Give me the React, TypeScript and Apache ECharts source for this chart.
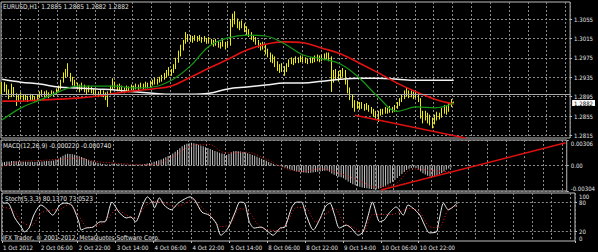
import React, { useEffect, useRef } from "react";
import * as echarts from "echarts";

const FONT =
  "'Noto Sans ExtraCondensed', 'Noto Sans Condensed', 'Liberation Sans Narrow', 'DejaVu Sans Condensed', 'Liberation Sans', Arial, sans-serif";
const FS = 6;
const FS_TEXT = 6.5;
const TEXT = "#e4e4e4";
const GRIDLINE = "#8a8a8a";
const BORDER = "#bdbdbd";

// ---------- price data (H1 bars, pips above 1.2800) ----------
const SYMBOL = "EURUSD,H1";
const BASE_PRICE = 1.28;
const PIP = 0.0001;
const FIRST_OPEN_PIPS = 104;
const closePips = [
  110, 118, 105, 96, 112, 100, 88, 95,
  98, 92, 94, 90, 96, 92, 90, 95,
  100, 104, 98, 102, 99, 103, 101, 106,
  112, 125, 138, 145, 140, 132, 126, 120,
  116, 112, 118, 110, 106, 112, 108, 104,
  102, 98, 104, 100, 96, 100, 112, 122,
  118, 112, 116, 110, 108, 112, 110, 114,
  112, 116, 114, 118, 116, 120, 118, 122,
  124, 128, 126, 130, 134, 138, 142, 148,
  145, 155, 168, 182, 195, 206, 220, 214,
  216, 212, 218, 214, 216, 212, 214, 210,
  212, 208, 205, 208, 204, 200, 206, 202,
  204, 245, 258, 250, 246, 240, 244, 236,
  230, 226, 220, 214, 210, 204, 196, 200,
  190, 184, 172, 176, 164, 158, 150, 156,
  148, 158, 166, 170, 168, 172, 170, 174,
  172, 170, 168, 172, 170, 174, 176, 172,
  176, 178, 180, 176, 135, 140, 146, 138,
  145, 148, 128, 112, 96, 84, 76, 80,
  74, 78, 72, 76, 70, 66, 62, 58,
  60, 66, 64, 68, 66, 70, 68, 72,
  78, 86, 94, 100, 104, 98, 102, 96,
  100, 90, 62, 54, 60, 52, 48, 44,
  50, 58, 54, 64, 70, 66, 76, 85,
  82,
];
const highPips = [
  125, 125, 120, 110, 122, 115, 102, 100,
  104, 100, 99, 97, 101, 99, 96, 100,
  106, 109, 106, 108, 104, 108, 106, 112,
  118, 130, 145, 152, 164, 144, 136, 130,
  124, 120, 124, 120, 114, 118, 116, 112,
  110, 106, 110, 108, 104, 106, 118, 133,
  126, 120, 122, 118, 114, 118, 116, 120,
  118, 122, 120, 124, 122, 126, 124, 128,
  130, 134, 132, 136, 140, 144, 150, 156,
  152, 162, 175, 190, 202, 212, 228, 224,
  222, 220, 222, 220, 222, 218, 220, 216,
  218, 214, 212, 214, 210, 208, 212, 208,
  210, 255, 266, 271, 256, 250, 252, 246,
  240, 234, 228, 222, 218, 212, 206, 208,
  202, 194, 186, 182, 178, 168, 162, 164,
  158, 164, 172, 176, 174, 178, 176, 180,
  178, 176, 174, 176, 176, 180, 182, 180,
  182, 184, 186, 186, 178, 150, 152, 148,
  150, 154, 150, 130, 114, 100, 88, 86,
  84, 84, 80, 82, 78, 74, 70, 66,
  66, 70, 70, 74, 72, 76, 74, 78,
  84, 92, 100, 108, 113, 108, 108, 106,
  106, 104, 92, 66, 66, 62, 58, 52,
  58, 64, 62, 72, 78, 76, 84, 90,
  85,
];
const lowPips = [
  100, 105, 100, 90, 94, 96, 76, 84,
  90, 86, 88, 84, 88, 86, 85, 88,
  92, 96, 94, 96, 92, 97, 95, 99,
  104, 110, 124, 134, 136, 126, 118, 114,
  110, 104, 108, 104, 100, 104, 102, 98,
  96, 94, 96, 94, 88, 74, 98, 110,
  112, 106, 108, 104, 102, 106, 104, 108,
  106, 110, 108, 112, 110, 112, 112, 114,
  118, 120, 120, 124, 126, 130, 134, 138,
  138, 144, 152, 165, 178, 190, 204, 208,
  208, 206, 210, 208, 210, 206, 208, 204,
  206, 202, 198, 200, 196, 194, 198, 192,
  196, 200, 238, 244, 236, 232, 236, 228,
  222, 218, 212, 208, 202, 196, 190, 192,
  182, 176, 166, 164, 156, 148, 144, 146,
  138, 146, 156, 162, 160, 164, 164, 166,
  166, 164, 162, 164, 164, 166, 168, 166,
  168, 170, 172, 168, 105, 124, 130, 126,
  132, 136, 120, 102, 88, 72, 64, 70,
  68, 70, 66, 68, 64, 60, 54, 50,
  43, 56, 58, 60, 60, 62, 62, 64,
  70, 76, 84, 90, 96, 92, 94, 90,
  92, 84, 50, 40, 46, 40, 36, 30,
  38, 46, 48, 52, 60, 58, 64, 74,
  82,
];

// moving averages, read every 8 bars
const MA_STEP = 8;
const maGreen = [1.2847, 1.2872, 1.2888, 1.2905, 1.2917, 1.2917, 1.2917, 1.2913, 1.2915, 1.2929, 1.2958, 1.2999, 1.3016,
  1.3022, 1.3020, 1.3004, 1.2981, 1.2973, 1.2962, 1.2933, 1.2894, 1.2865, 1.2874, 1.2872, 1.2882];
const maRed = [1.2886, 1.2886, 1.2888, 1.2890, 1.2892, 1.2896, 1.2902, 1.2907, 1.2911, 1.2917, 1.2935, 1.2954, 1.2972,
  1.2991, 1.3003, 1.3008, 1.3006, 1.2995, 1.2983, 1.2964, 1.2944, 1.2923, 1.2905, 1.2890, 1.2880];
const maWhite = [1.2931, 1.2925, 1.2921, 1.2915, 1.2913, 1.2911, 1.2909, 1.2905, 1.2902, 1.2900, 1.2900, 1.2902, 1.2911,
  1.2915, 1.2919, 1.2923, 1.2923, 1.2927, 1.2931, 1.2933, 1.2933, 1.2931, 1.2929, 1.2929, 1.2929];

// horizontal levels and trend line in the price window
const priceTicks = [1.2815, 1.2855, 1.2895, 1.2935, 1.2975, 1.3015, 1.3055];
const redLevels = [1.2895, 1.2874];
const greenLevels = [1.2888, 1.2885];
const priceTrend: [number, number][] = [[150, 1.2857], [197, 1.2810]];
const PRICE_MIN = 1.2810;
const PRICE_MAX = 1.3090;

// MACD(12,26,9), in units of 0.00001
const macdMain = [
  40, 44, 48, 50, 54, 55, 52, 50,
  48, 47, 46, 45, 46, 45, 44, 45,
  47, 50, 52, 54, 55, 58, 62, 70,
  82, 100, 118, 132, 142, 140, 136, 130,
  122, 112, 102, 90, 78, 66, 56, 48,
  40, 32, 26, 20, 16, 12, 14, 22,
  24, 20, 18, 14, 12, 10, 10, 9,
  8, 9, 10, 12, 14, 18, 24, 30,
  38, 46, 55, 64, 74, 86, 100, 114,
  126, 144, 164, 186, 208, 230, 248, 260,
  268, 272, 268, 260, 250, 240, 230, 220,
  210, 198, 186, 175, 164, 154, 145, 138,
  128, 140, 160, 170, 174, 172, 168, 162,
  156, 148, 140, 128, 118, 106, 94, 82,
  70, 58, 44, 30, 20, 8, 0, -6,
  -14, -24, -34, -44, -54, -62, -70, -76,
  -80, -84, -86, -88, -86, -82, -78, -74,
  -70, -66, -62, -60, -74, -94, -110, -124,
  -134, -140, -152, -170, -190, -208, -224, -236,
  -246, -254, -262, -268, -272, -276, -280, -282,
  -284, -278, -268, -256, -242, -226, -210, -192,
  -172, -150, -126, -100, -76, -54, -38, -28,
  -22, -30, -50, -72, -92, -108, -122, -132,
  -138, -134, -122, -108, -90, -70, -50, -34,
  -22,
];
const MACD_STEP = 8;
const macdSignal = [-16, 50, 60, 75, 90, 48, 30, 15, 10, 90, 225, 255, 150, 160, 90, -20, -70, -40, -90, -170, -255, -220,
  -40, -60, -74];
const MACD_UNIT = 0.00001;
const macdTicks = [-0.00304, 0, 0.00306];
const macdTrend: [number, number][] = [[162, -0.00292], [241, 0.00272]];

// Stochastic(5,3,3): [bar, value]
const stochMain: [number, number][] = [
  [0, 79], [2, 79], [5, 48], [8, 27], [9, 19], [11, 27], [13, 54], [16, 75], [18, 69], [21, 54], [24, 75], [26, 79],
  [29, 75], [32, 40], [33, 23], [35, 27], [38, 29], [41, 40], [43, 40], [46, 81], [49, 60], [52, 48], [54, 50],
  [56, 40], [59, 75], [61, 92], [63, 81], [64, 69], [66, 90], [68, 75], [71, 65], [74, 79], [79, 92], [81, 85],
  [84, 60], [87, 54], [90, 37], [92, 12], [95, 27], [98, 60], [100, 81], [102, 79], [104, 40], [106, 27], [109, 29],
  [112, 19], [114, 12], [117, 27], [119, 29], [122, 71], [124, 81], [126, 81], [128, 54], [131, 23], [134, 48],
  [136, 71], [138, 79], [140, 54], [142, 27], [145, 33], [147, 27], [150, 12], [152, 19], [154, 50], [156, 81],
  [159, 40], [161, 44], [163, 58], [166, 71], [169, 54], [171, 75], [173, 69], [176, 54], [178, 33], [180, 17],
  [183, 19], [184, 40], [186, 79], [188, 65], [191, 75], [192, 80.137],
];
const stochSignal: [number, number][] = [
  [0, 70], [4, 65], [8, 40], [12, 32], [16, 58], [20, 64], [24, 66], [28, 76], [32, 52], [36, 28], [40, 33], [44, 45],
  [48, 66], [52, 54], [56, 47], [60, 72], [64, 82], [68, 80], [72, 72], [76, 76], [80, 86], [84, 70], [88, 52],
  [92, 30], [96, 35], [100, 68], [104, 60], [108, 32], [112, 23], [116, 22], [120, 40], [124, 70], [128, 68],
  [132, 40], [136, 55], [140, 68], [144, 37], [148, 28], [152, 18], [156, 55], [160, 55], [164, 55], [168, 62],
  [172, 68], [176, 60], [180, 30], [184, 28], [188, 65], [192, 73.0523],
];
const stochLevels = [20, 80];
const stochTicks = [0, 20, 80, 100];

// time axis
const timeLabels = ["1 Oct 2012", "2 Oct 06:00", "2 Oct 22:00", "3 Oct 14:00", "4 Oct 06:00", "4 Oct 22:00",
  "5 Oct 14:00", "8 Oct 06:00", "8 Oct 22:00", "9 Oct 14:00", "10 Oct 06:00", "10 Oct 22:00"];
const LABEL_STEP = 16;
const GRID_STEP = 8;
const SLOT_COUNT = 242;

const pad = (n: number) => (n < 10 ? "0" + n : "" + n);
const categories: string[] = (() => {
  const out: string[] = [];
  let t = Date.UTC(2012, 9, 1, 14);
  while (out.length < SLOT_COUNT) {
    const d = new Date(t);
    const wd = d.getUTCDay();
    if (wd !== 0 && wd !== 6) {
      out.push(`${d.getUTCFullYear()}.${pad(d.getUTCMonth() + 1)}.${pad(d.getUTCDate())} ${pad(d.getUTCHours())}:00`);
    }
    t += 3600000;
  }
  return out;
})();

const px = (p: number) => Number((BASE_PRICE + p * PIP).toFixed(5));

export default function App() {
  const ref = useRef<HTMLDivElement>(null);
  useEffect(() => {
    if (!ref.current) return;
    const chart = echarts.init(ref.current, null, { renderer: "svg" });

    const candles = closePips.map((c, i) => {
      const o = i === 0 ? FIRST_OPEN_PIPS : closePips[i - 1];
      return [px(o), px(c), px(lowPips[i]), px(highPips[i])];
    });
    const last = candles[candles.length - 1];
    const title = `${SYMBOL}  ${last[0].toFixed(4)} ${last[3].toFixed(4)} ${last[2].toFixed(4)} ${last[1].toFixed(4)}`;
    const bid = last[1];
    const macdLast = macdMain[macdMain.length - 1] * MACD_UNIT;
    const sigLast = macdSignal[macdSignal.length - 1] * MACD_UNIT;
    const macdTitle = `MACD(12,26,9) ${macdLast.toFixed(6)} ${sigLast.toFixed(6)}`;
    const stochTitle = `Stoch(5,3,3) ${stochMain[stochMain.length - 1][1].toFixed(4)} ${stochSignal[stochSignal.length - 1][1].toFixed(4)}`;

    const gridBase = { left: 1, right: 23, show: true, borderColor: BORDER, borderWidth: 1, backgroundColor: "transparent" };
    const dotted = { color: GRIDLINE, type: [2, 2] as any, width: 1 };
    const labelAt = (i: number) => i % LABEL_STEP === 0 && i / LABEL_STEP < timeLabels.length;
    const xAxisFor = (gridIndex: number, labels: boolean) => ({
      type: "category",
      gridIndex,
      data: categories,
      boundaryGap: true,
      axisLine: { show: false },
      axisTick: labels ? { show: true, length: 2, interval: labelAt, lineStyle: { color: BORDER } } : { show: false },
      axisLabel: labels
        ? {
            show: true,
            interval: labelAt,
            formatter: (_v: string, i: number) => timeLabels[i / LABEL_STEP] ?? "",
            align: "left",
            margin: 3,
            color: TEXT,
            fontSize: FS,
            fontFamily: FONT,
          }
        : { show: false },
      splitLine: { show: true, interval: (i: number) => i % GRID_STEP === 0, lineStyle: dotted },
    });

    const labelStyle = { color: TEXT, fontSize: FS, fontFamily: FONT, margin: 4 };

    const maSeries = (data: number[], color: string, width: number, z: number) => ({
      type: "line",
      xAxisIndex: 0,
      yAxisIndex: 0,
      data: data.map((v, k) => [k * MA_STEP, v]),
      smooth: 0.4,
      showSymbol: false,
      symbol: "none",
      lineStyle: { color, width },
      z,
      silent: true,
    });

    const textEl = (text: string, left: number, top: number) => ({
      type: "text",
      left,
      top,
      silent: true,
      style: { text, fill: TEXT, font: `${FS_TEXT}px ${FONT}` },
    });

    chart.setOption({
      animation: false,
      backgroundColor: "#000000",
      textStyle: { fontFamily: FONT },
      grid: [
        { ...gridBase, top: 2, height: 136 },
        { ...gridBase, top: 140, height: 51 },
        { ...gridBase, top: 193, height: 48 },
      ],
      xAxis: [xAxisFor(0, false), xAxisFor(1, false), xAxisFor(2, true)],
      yAxis: [
        {
          type: "value",
          gridIndex: 0,
          position: "right",
          min: PRICE_MIN,
          max: PRICE_MAX,
          axisLine: { show: false },
          axisTick: { show: true, length: 2, customValues: priceTicks, lineStyle: { color: BORDER } },
          axisLabel: { ...labelStyle, customValues: priceTicks, formatter: (v: number) => v.toFixed(4) },
          splitLine: { show: true, lineStyle: dotted },
        },
        {
          type: "value",
          gridIndex: 0,
          position: "right",
          min: PRICE_MIN,
          max: PRICE_MAX,
          axisLine: { show: false },
          axisTick: { show: false },
          splitLine: { show: false },
          axisLabel: {
            ...labelStyle,
            margin: 2,
            customValues: [bid],
            formatter: (v: number) => v.toFixed(4),
            color: "#000000",
            backgroundColor: "#ffffff",
            padding: [0, 2, 0, 2],
            lineHeight: 6,
          },
        },
        {
          type: "value",
          gridIndex: 1,
          position: "right",
          min: macdTicks[0],
          max: macdTicks[macdTicks.length - 1],
          axisLine: { show: false },
          axisTick: { show: true, length: 2, customValues: macdTicks, lineStyle: { color: BORDER } },
          axisLabel: {
            ...labelStyle,
            customValues: macdTicks,
            formatter: (v: number) => (Math.abs(v) < 1e-9 ? "0.00" : v.toFixed(5)),
            showMinLabel: true,
            showMaxLabel: true,
            verticalAlignMinLabel: "bottom",
            verticalAlignMaxLabel: "top",
          },
          splitLine: { show: true, lineStyle: dotted },
        },
        {
          type: "value",
          gridIndex: 2,
          position: "right",
          min: stochTicks[0],
          max: stochTicks[stochTicks.length - 1],
          axisLine: { show: false },
          axisTick: { show: true, length: 2, customValues: stochLevels, lineStyle: { color: BORDER } },
          axisLabel: {
            ...labelStyle,
            customValues: stochTicks,
            showMinLabel: true,
            showMaxLabel: true,
            verticalAlignMinLabel: "bottom",
            verticalAlignMaxLabel: "top",
          },
          splitLine: { show: true, lineStyle: dotted },
        },
      ],
      series: [
        {
          type: "candlestick",
          xAxisIndex: 0,
          yAxisIndex: 0,
          data: candles,
          barWidth: 0.8,
          z: 2,
          silent: true,
          itemStyle: {
            color: "#000000",
            color0: "#ffffff",
            borderColor: "#eeee00",
            borderColor0: "#eeee00",
            borderWidth: 1,
          },
          markLine: {
            silent: true,
            symbol: ["none", "none"],
            animation: false,
            label: { show: false },
            data: [
              ...redLevels.map((v) => ({ yAxis: v, lineStyle: { color: "#c81414", type: [3, 2], width: 1 } })),
              ...greenLevels.map((v) => ({ yAxis: v, lineStyle: { color: "#1e9a1e", type: [3, 2], width: 1 } })),
              { yAxis: bid, lineStyle: { color: "#a8a8a8", type: "solid", width: 1 } },
              [
                { coord: priceTrend[0], lineStyle: { color: "#e01010", type: "solid", width: 1.5 } },
                { coord: priceTrend[1] },
              ],
            ],
          },
        },
        maSeries(maWhite, "#f2f2f2", 1.5, 3),
        maSeries(maRed, "#e01212", 1.6, 4),
        maSeries(maGreen, "#169a16", 1.2, 5),
        {
          type: "bar",
          xAxisIndex: 1,
          yAxisIndex: 2,
          data: macdMain.map((v) => Number((v * MACD_UNIT).toFixed(6))),
          barWidth: 1,
          itemStyle: { color: "#c4c4c4" },
          silent: true,
          markLine: {
            silent: true,
            symbol: ["none", "none"],
            animation: false,
            label: { show: false },
            data: [[{ coord: macdTrend[0], lineStyle: { color: "#e01010", type: "solid", width: 1.5 } }, { coord: macdTrend[1] }]],
          },
        },
        {
          type: "line",
          xAxisIndex: 1,
          yAxisIndex: 2,
          data: macdSignal.map((v, k) => [k * MACD_STEP, Number((v * MACD_UNIT).toFixed(6))]),
          smooth: 0.4,
          showSymbol: false,
          symbol: "none",
          lineStyle: { color: "#e01818", width: 1, type: [1, 2] },
          silent: true,
        },
        {
          type: "line",
          xAxisIndex: 2,
          yAxisIndex: 3,
          data: stochSignal,
          smooth: 0.3,
          showSymbol: false,
          symbol: "none",
          lineStyle: { color: "#e01818", width: 1, type: [1, 2] },
          silent: true,
        },
        {
          type: "line",
          xAxisIndex: 2,
          yAxisIndex: 3,
          data: stochMain,
          smooth: 0.25,
          showSymbol: false,
          symbol: "none",
          lineStyle: { color: "#ececec", width: 1 },
          silent: true,
        },
      ],
      graphic: [
        textEl(title, 3, 3),
        textEl(macdTitle, 3, 142),
        textEl(stochTitle, 5, 195),
        textEl("IFX Trader, © 2001-2012, MetaQuotes Software Corp.", 3, 234),
      ],
    });
    return () => chart.dispose();
  }, []);

  return (
    <div style={{ position: "fixed", left: 0, top: 0, width: 598, height: 252, background: "#000" }}>
      <div ref={ref} style={{ width: 598, height: 252 }} />
    </div>
  );
}
